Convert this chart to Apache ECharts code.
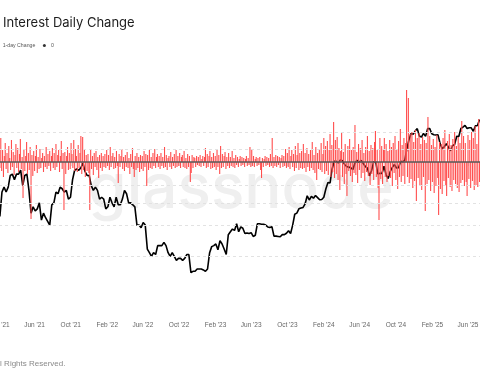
<!DOCTYPE html>
<html><head><meta charset="utf-8">
<script src="https://cdn.jsdelivr.net/npm/echarts@6/dist/echarts.min.js"></script>
<style>html,body{margin:0;padding:0;background:#fff}#c{width:480px;height:384px}</style>
</head><body><div id="c"></div>
<script>
// ---- text ----
const titleText = 'Interest Daily Change';
const footerText = 'All Rights Reserved.';
const watermarkText = 'glassnode';
const changeName = '1-day Change';
const zeroName = '0';

// ---- x ticks ----
const tickDates = ['2021-02-01','2021-06-01','2021-10-01','2022-02-01','2022-06-01','2022-10-01','2023-02-01','2023-06-01','2023-10-01','2024-02-01','2024-06-01','2024-10-01','2025-02-01','2025-06-01'];
const tickLabels = ["Feb '21","Jun '21","Oct '21","Feb '22","Jun '22","Oct '22","Feb '23","Jun '23","Oct '23","Feb '24","Jun '24","Oct '24","Feb '25","Jun '25"];

// ---- price (BTC, thousands USD), weekly from 2021-02-04 ----
const priceStartDate = '2021-02-04';
const priceStepDays = 7;
const priceK = [
33.5,46,49,46,49,57,58,54,58,58,61,50,57,58,47,35,38,36,37,40,32,35,33,31.5,30,39,40,46,45,49,48,46,47,42,43,54,61,62,61,63,67,60,57,57,50,47,49,47,
42,43,42,37,38,43,40,38,43,39,39,42,47,45,40,40,39,38,30,30,29,31,30,22,21,20,21,20.5,23,23,23,24,23,21,20,21,20,19,19.5,19.5,19,19.5,20.5,20.5,16.2,16.5,16.5,17,17,17,16.8,16.5,
17,21,22.7,23,23.5,21.8,24.5,23.5,22,20.5,26.5,27.5,28.5,28,30.5,27.5,29.3,28.8,26.9,27.1,26.9,27.2,25.9,26.3,30.5,30.5,30.3,30.3,30,29.3,29.1,29.4,26,26,25.9,25.8,26.5,26.5,27,27.9,26.9,30,34.5,35,37,37.4,37.7,39.5,43.8,41.5,43.5,42.5,
44,42.8,41.6,41.8,43,48,52,51.7,62,68.5,68.4,67,69.7,69,65.7,64,63.5,63,61.5,67,69.3,67.5,69.3,66.6,64,62.7,56.7,60.8,68,68,58.1,58.7,58.5,64.2,57.5,54.8,60,63.3,65.6,62.8,63,68.4,68,69.5,80.4,90.5,98,97.2,101.2,104.5,95,93.7,98.3,
94.5,104.5,104.7,97.7,96.5,96.2,96.3,86,80.7,82.6,86.1,82.3,78.4,83.7,85.2,94.6,94.3,104.6,106.5,109,104.6,105.6,105.6,100.9,108.3,108.9,117.5
];

// ---- open interest 1-day change, every 3 days from 2021-02-01 ----
const changeStartDate = '2021-02-01';
const changeStepDays = 3;
const changeValues = [
0.8,-0.6,2.4,-0.9,1.2,-1.5,0.6,1.9,-0.7,0.9,-1.1,1.6,0.4,-0.8,2.2,-0.5,1.0,-1.3,0.7,1.8,
-0.6,1.4,-1.0,0.8,2.3,-0.7,0.5,-3.6,1.2,-0.9,0.6,2.0,-1.2,0.9,-0.8,1.5,-5.7,0.7,-1.4,1.1,
-0.9,0.6,1.7,-1.1,0.5,-0.7,1.3,-0.6,0.4,0.9,-1.0,0.6,-0.5,1.5,-0.7,0.8,-0.4,1.1,-0.9,0.6,
1.4,-0.6,0.9,-0.8,1.8,-0.5,0.7,1.2,-1.0,0.6,2.1,-0.7,0.9,-4.8,1.0,-1.2,0.6,1.5,-0.8,0.9,
-0.7,1.9,0.8,-0.6,2.2,-0.9,1.3,0.6,-1.0,1.7,-0.6,0.9,2.6,-1.2,2.5,-0.8,1.2,-1.5,0.7,-0.9,
0.8,-1.1,-4.8,1.3,-0.7,0.6,-1.3,0.9,-0.5,1.1,-0.8,0.5,-1.6,0.7,-0.6,0.9,-0.9,0.6,-0.5,0.8,
-0.6,1.2,-0.4,0.7,-0.8,1.5,-0.5,0.6,0.9,-0.7,0.5,-0.6,1.1,-0.4,-2.1,0.8,-0.5,0.6,1.3,-0.7,
0.5,-0.9,0.7,-0.5,1.0,-0.6,0.4,-1.2,0.8,-0.5,1.4,-0.7,-1.5,0.6,-0.8,0.9,-0.6,0.5,-1.0,0.7,
-0.7,0.6,-0.9,1.1,-0.5,0.8,-2.4,0.7,-0.8,1.2,-0.6,0.5,-0.7,0.9,-0.4,1.3,-0.6,0.5,0.8,-0.5,
0.6,-0.7,0.9,-0.4,0.5,-0.6,1.5,-0.5,0.7,-0.8,0.4,0.6,-0.5,1.0,-0.7,0.5,-0.4,0.8,-0.6,1.2,
-0.5,0.6,-0.4,0.9,-0.6,0.5,0.7,-0.5,1.1,-0.6,0.4,-0.7,0.8,-0.5,0.6,-2.0,-1.1,0.7,-0.6,0.5,
0.4,-0.5,0.6,-0.3,0.5,-0.4,0.7,-0.5,0.3,0.6,-0.4,0.5,1.4,-0.6,0.8,-0.5,0.6,1.1,-0.7,0.5,
-0.6,0.9,-0.5,0.6,-0.8,1.3,-0.5,0.7,-1.2,1.6,-0.6,0.8,-0.5,0.6,1.0,-0.7,0.5,-0.4,0.9,-0.6,
0.5,-0.4,1.1,-0.5,0.4,-0.6,0.7,-0.3,0.5,-0.5,0.3,0.6,-0.4,0.5,-0.3,0.4,-0.5,0.3,0.6,-0.4,
0.4,-0.3,1.5,-0.5,1.2,-0.4,0.6,-0.5,0.3,0.5,-0.4,0.4,-0.3,0.5,-0.8,-1.6,0.4,-0.5,0.3,0.6,
-0.4,0.5,-0.3,0.4,-0.5,0.8,-0.4,2.4,-0.6,0.5,-0.4,0.7,-0.5,0.6,-0.3,0.5,-0.6,0.4,0.7,-0.5,
0.6,-0.4,1.3,-0.6,0.9,-0.5,1.5,-0.7,0.6,1.2,-0.5,0.8,-0.9,1.6,-0.6,0.7,1.9,-0.8,0.9,-0.6,
1.1,-0.7,1.8,-0.6,0.9,-1.0,1.4,-0.5,0.8,-0.9,1.2,-0.6,2.0,-0.8,0.7,-1.1,1.5,-1.8,0.9,-0.7,
1.3,-0.8,1.9,-1.0,0.8,2.4,-1.2,1.6,-0.9,2.1,-1.3,1.2,2.8,-1.5,1.7,-1.0,4.0,-1.6,2.2,-1.2,
2.5,-1.8,1.4,-2.8,1.1,2.9,-1.5,1.0,-2.2,1.8,-1.2,-3.4,1.6,-0.9,2.3,-1.4,1.2,-2.0,1.5,-1.1,
3.7,-1.3,1.0,-2.1,1.8,-0.8,1.4,-1.6,2.2,-1.1,0.9,-1.9,1.5,-1.0,2.6,-1.4,1.1,-2.3,1.7,-1.2,
1.4,-1.8,2.0,3.1,-1.5,1.2,-2.6,-5.8,2.4,-1.7,1.6,-2.2,1.3,2.4,-1.5,1.8,-2.0,1.1,-1.4,2.2,
-1.6,1.5,-2.4,1.9,-1.1,2.6,-1.8,1.3,-2.7,2.1,-1.5,3.3,-2.0,1.7,-1.4,2.4,-2.2,1.9,7.2,-1.5,
6.4,-2.1,2.8,-1.7,3.0,-2.6,2.0,-1.9,3.2,-3.9,2.4,-1.6,2.9,-2.3,1.8,-2.8,2.5,-1.5,2.2,-4.9,
1.9,-2.2,4.5,-1.8,2.6,-2.9,1.7,-2.0,2.3,-3.1,1.5,-2.4,2.7,-1.6,-5.3,2.0,-2.7,1.8,-3.2,2.4,
-1.9,3.2,-2.3,-3.4,2.1,-1.6,2.8,-2.5,1.7,-2.9,2.3,-1.8,3.0,-2.2,1.6,-2.6,2.5,-3.0,1.9,-2.1,
4.1,-1.8,2.6,-2.4,1.9,-2.0,-3.4,2.7,-1.7,2.2,-2.6,3.0,-1.9,2.4,-2.8,3.6,-2.3,1.8,-2.5,4.3,
-2.0
];

// ---- horizontal grid values on the price axis (USD) ----
const priceGridValues = [20000, 30000, 40000, 50000, 80000, 100000];

// ---- build ----
const DAY = 86400000;
const toTs = s => { const p = s.split('-').map(Number); return Date.UTC(p[0], p[1]-1, p[2]); };
const tickTs = tickDates.map(toTs);
const pStart = toTs(priceStartDate), cStart = toTs(changeStartDate);
const priceData = priceK.map((v, i) => [pStart + i * priceStepDays * DAY, v * 1000]);
const changeData = changeValues.map((v, i) => [cStart + i * changeStepDays * DAY, v]);
const xMin = toTs('2021-02-01');
const xMax = toTs('2025-07-11') + DAY / 2;
const zeroData = [[xMin, 0], [xMax, 0]];
const labelFor = v => { let best = 0; for (let i = 1; i < tickTs.length; i++) if (Math.abs(tickTs[i]-v) < Math.abs(tickTs[best]-v)) best = i; return tickLabels[best]; };

const chart = echarts.init(document.getElementById('c'), null, {renderer: 'canvas'});
chart.setOption({
  animation: false,
  backgroundColor: '#fff',
  grid: {left: -1, right: 0, top: 85, bottom: 72, containLabel: false, outerBoundsMode: 'none'},
  legend: {
    left: -5.3, top: 43, padding: 0, itemWidth: 3, itemHeight: 3, itemGap: 7.6,
    textStyle: {fontSize: 5.2, color: '#555', fontFamily: 'Liberation Sans'},
    data: [{name: changeName, icon: 'rect'}, {name: zeroName, icon: 'circle'}]
  },
  xAxis: {
    type: 'value', min: xMin, max: xMax,
    axisLine: {show: true, lineStyle: {color: '#e4e4e4', width: 1}},
    axisTick: {show: true, length: 4, lineStyle: {color: '#e0e0e0'}, customValues: tickTs},
    axisLabel: {
      customValues: tickTs, fontSize: 6.5, color: '#666', fontFamily: 'Liberation Sans', margin: 10,
      hideOverlap: false, showMinLabel: true, showMaxLabel: true,
      formatter: v => labelFor(v)
    },
    splitLine: {show: false}
  },
  yAxis: [
    {type: 'log', logBase: 10, min: 9745, max: 183700, position: 'left',
     axisLine: {show: false}, axisTick: {show: false}, axisLabel: {show: false}, splitLine: {show: false}},
    {type: 'value', min: -15, max: 7.7, position: 'right',
     axisLine: {show: false}, axisTick: {show: false}, axisLabel: {show: false}, splitLine: {show: false}}
  ],
  graphic: [
    {type: 'text', x: 241, y: 189, z: -10, silent: true,
     style: {text: watermarkText, align: 'center', verticalAlign: 'middle', font: '500 62px Inter', fill: '#efefef'}},
    {type: 'text', x: 3, y: 23,
     style: {text: titleText, verticalAlign: 'middle', font: '400 13px Inter', fill: '#1d1d1d'}},
    {type: 'text', x: -7, y: 364,
     style: {text: footerText, verticalAlign: 'middle', font: '8px "Liberation Sans"', fill: '#8a8a8a'}}
  ],
  series: [
    {name: 'Price', type: 'line', yAxisIndex: 0, data: priceData, showSymbol: false, symbol: 'none',
     lineStyle: {color: '#000', width: 1.6}, itemStyle: {color: '#000'}, z: 2,
     markLine: {silent: true, symbol: 'none', label: {show: false},
       lineStyle: {color: '#e2e2e2', type: [3, 3], width: 1},
       data: priceGridValues.map(v => ({yAxis: v}))}},
    {name: changeName, type: 'bar', yAxisIndex: 1, data: changeData, barWidth: 1.1,
     itemStyle: {color: '#ff4d4d'}, z: 3},
    {name: zeroName, type: 'line', yAxisIndex: 1, data: zeroData, showSymbol: false, symbol: 'none',
     lineStyle: {color: '#5a5a5a', width: 1.5}, itemStyle: {color: '#333'}, z: 4}
  ]
});
</script></body></html>
